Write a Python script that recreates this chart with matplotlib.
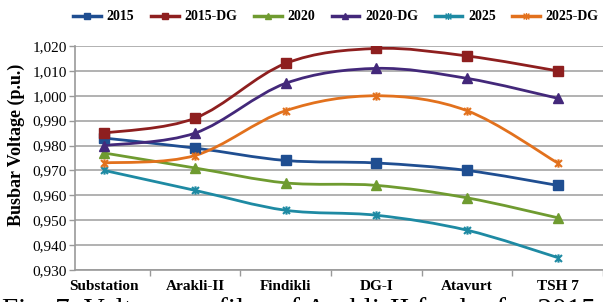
import numpy as np
import matplotlib
matplotlib.use('Agg')
import matplotlib.pyplot as plt
from matplotlib.path import Path
from matplotlib.patches import PathPatch
from matplotlib.lines import Line2D
from matplotlib.ticker import FuncFormatter, MultipleLocator

# data
buses = ['Substation', 'Arakli-II', 'Findikli', 'DG-I', 'Atavurt', 'TSH 7']
series_names = ['2015', '2015-DG', '2020', '2020-DG', '2025', '2025-DG']
v2015 = [0.983, 0.979, 0.974, 0.973, 0.970, 0.964]
v2015_dg = [0.985, 0.991, 1.013, 1.019, 1.016, 1.010]
v2020 = [0.977, 0.971, 0.965, 0.964, 0.959, 0.951]
v2020_dg = [0.980, 0.985, 1.005, 1.011, 1.007, 0.999]
v2025 = [0.970, 0.962, 0.954, 0.952, 0.946, 0.935]
v2025_dg = [0.973, 0.976, 0.994, 1.000, 0.994, 0.973]

colors = ['#1F4E91', '#8E1F1F', '#6F9B30', '#43287A', '#1E8AA3', '#E2711D']

# excel style "star" marker: x with a vertical bar
star = Path([(-1, -1), (1, 1), (-1, 1), (1, -1), (0, -1.2), (0, 1.2)],
            [Path.MOVETO, Path.LINETO, Path.MOVETO, Path.LINETO, Path.MOVETO, Path.LINETO])
markers = ['s', 's', '^', '^', star, star]

SERIF = 'Liberation Serif'


def smooth_path(xs, ys):
    # catmull-rom like bezier, similar to excel's smoothed line
    pts = np.column_stack([xs, ys]).astype(float)
    n = len(pts)
    verts = [pts[0]]
    codes = [Path.MOVETO]
    for i in range(n - 1):
        p0 = pts[max(i - 1, 0)]
        p1 = pts[i]
        p2 = pts[i + 1]
        p3 = pts[min(i + 2, n - 1)]
        c1 = p1 + (p2 - p0) / 6.0
        c2 = p2 - (p3 - p1) / 6.0
        verts += [c1, c2, p2]
        codes += [Path.CURVE4] * 3
    return Path(verts, codes)


fig = plt.figure(figsize=(6.03, 3.02), dpi=100)
ax = fig.add_axes([75 / 603, 1 - 270 / 302, 1 - 75 / 603, (270 - 46) / 302])

x = np.arange(len(buses))
handles = []
for name, vals, c, m in zip(series_names, [v2015, v2015_dg, v2020, v2020_dg, v2025, v2025_dg], colors, markers):
    ax.add_patch(PathPatch(smooth_path(x, vals), fill=False, edgecolor=c, lw=2.0, zorder=3))
    is_star = not isinstance(m, str)
    ax.plot(x, vals, linestyle='none', marker=m, ms=7 if not is_star else 6,
            color=c, markeredgecolor=c, mew=1.5 if is_star else 1.0, zorder=4)
    handles.append(Line2D([], [], color=c, lw=2.5, marker=m, ms=5, mew=1.0, label=name))

ax.set_xlim(-30 / 92.8, 5 + 34 / 92.8)
ax.set_ylim(0.930, 1.020)
ax.yaxis.set_major_locator(MultipleLocator(0.010))
ax.yaxis.set_major_formatter(FuncFormatter(lambda v, p: ('%.3f' % v).replace('.', ',')))
ax.grid(axis='y', color='#ABABAB', lw=1.3, zorder=0)
ax.set_axisbelow(True)

ax.set_xticks(x)
ax.set_xticklabels(buses, fontfamily=SERIF, fontweight='bold', fontsize=11)
ax.set_xticks(np.arange(len(buses)) + 0.5, minor=True)
ax.tick_params(axis='x', which='major', length=0, pad=7)
ax.tick_params(axis='x', which='minor', length=4, color='#999999', width=1)
ax.tick_params(axis='y', length=4, color='#999999', width=1, pad=2, labelsize=11)
for lab in ax.get_yticklabels():
    lab.set_fontfamily(SERIF)

for s in ['top', 'right']:
    ax.spines[s].set_visible(False)
for s in ['left', 'bottom']:
    ax.spines[s].set_color('#999999')
    ax.spines[s].set_linewidth(1.2)

fig.text(16 / 603, 1 - 145 / 302, 'Busbar Voltage (p.u.)', rotation=90, ha='center', va='center',
         fontfamily=SERIF, fontweight='bold', fontsize=13)

fig.legend(handles=handles, loc='center', bbox_to_anchor=(336 / 603, 1 - 17 / 302), ncol=6,
           frameon=False, handlelength=2.0, handletextpad=0.4, columnspacing=1.2,
           prop={'family': SERIF, 'weight': 'bold', 'size': 10})

# caption cut off at the bottom of the image
fig.text(2 / 603, -16 / 302, 'Fig. 7. Voltage profiles of Arakli-II feeder for 2015',
         ha='left', va='baseline', fontfamily=SERIF, fontsize=21)

fig.savefig('out.png', dpi=100)
